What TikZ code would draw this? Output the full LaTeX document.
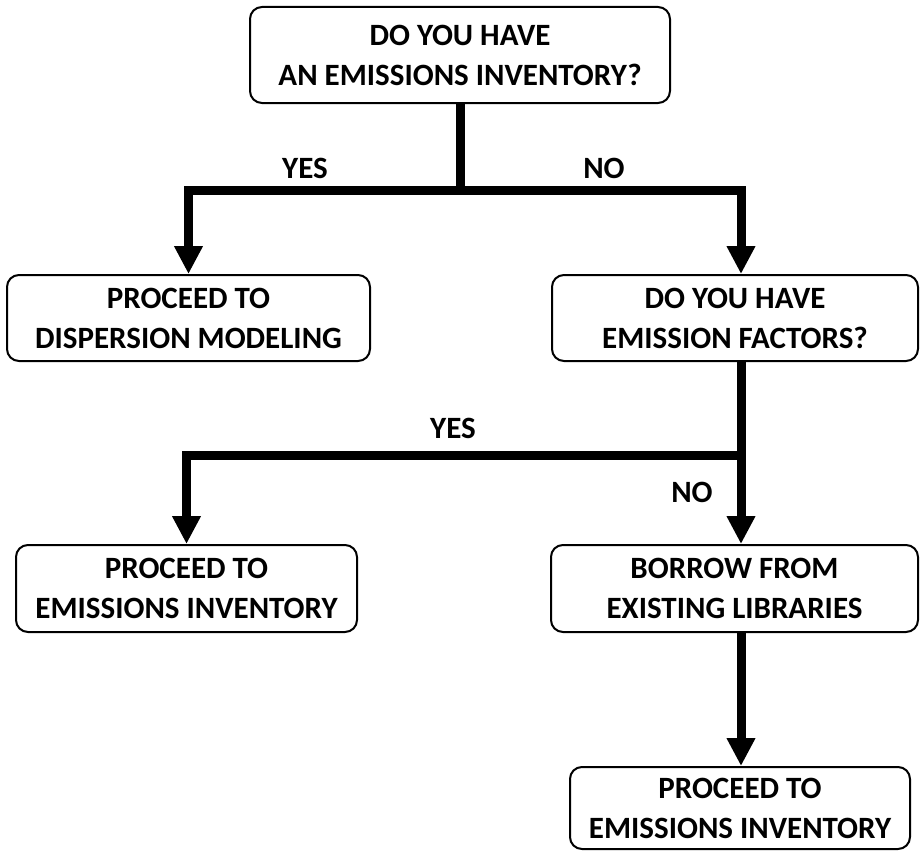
\documentclass[tikz,border=0pt]{standalone}
\usepackage{fontspec}
\setmainfont{Carlito}
\usetikzlibrary{arrows.meta}
\begin{document}
\begin{tikzpicture}[x=1pt,y=-1pt,
  box/.style={draw,line width=2pt,rounded corners=12pt,align=center,inner sep=0pt,
    font=\fontsize{31}{40}\selectfont\bfseries},
  answer/.style={font=\fontsize{31}{40}\selectfont\bfseries},
  flow/.style={line width=9pt},
  flowarrow/.style={flow,-{Triangle[width=27pt,length=28pt]}}]
\useasboundingbox (0,0) rectangle (921,851);
% boxes
\node[box,minimum width=420pt,minimum height=96pt] (inventory) at (460,55) {DO YOU HAVE\\AN EMISSIONS INVENTORY?};
\node[box,minimum width=363pt,minimum height=86pt] (dispersion) at (188.5,318) {PROCEED TO\\DISPERSION MODELING};
\node[box,minimum width=366pt,minimum height=86pt] (factors) at (735,318) {DO YOU HAVE\\EMISSION FACTORS?};
\node[box,minimum width=341pt,minimum height=87pt] (proceedleft) at (186.5,588.5) {PROCEED TO\\EMISSIONS INVENTORY};
\node[box,minimum width=367pt,minimum height=87pt] (borrow) at (734.5,588.5) {BORROW FROM\\EXISTING LIBRARIES};
\node[box,minimum width=340pt,minimum height=82pt] (proceedright) at (740,808) {PROCEED TO\\EMISSIONS INVENTORY};
% junctions
\coordinate (split1) at (460,190);
\coordinate (split2) at (741,455);
% connectors
\draw[flow] (inventory) -- (split1);
\draw[flowarrow] (split1) -| (dispersion.north);
\draw[flowarrow] (split1) -| (split2 |- factors.north);
\draw[flow] (split2 |- factors.south) -- (split2);
\draw[flowarrow] (split2) -| (proceedleft.north);
\draw[flowarrow] (split2) -- (split2 |- borrow.north);
\draw[flowarrow] (split2 |- borrow.south) -- (split2 |- proceedright.north);
% answers
\node[answer] (yes1) at (305,168) {YES};
\node[answer] (no1) at (604,168) {NO};
\node[answer] (yes2) at (453,428) {YES};
\node[answer] (no2) at (692,492) {NO};
\end{tikzpicture}
\end{document}
